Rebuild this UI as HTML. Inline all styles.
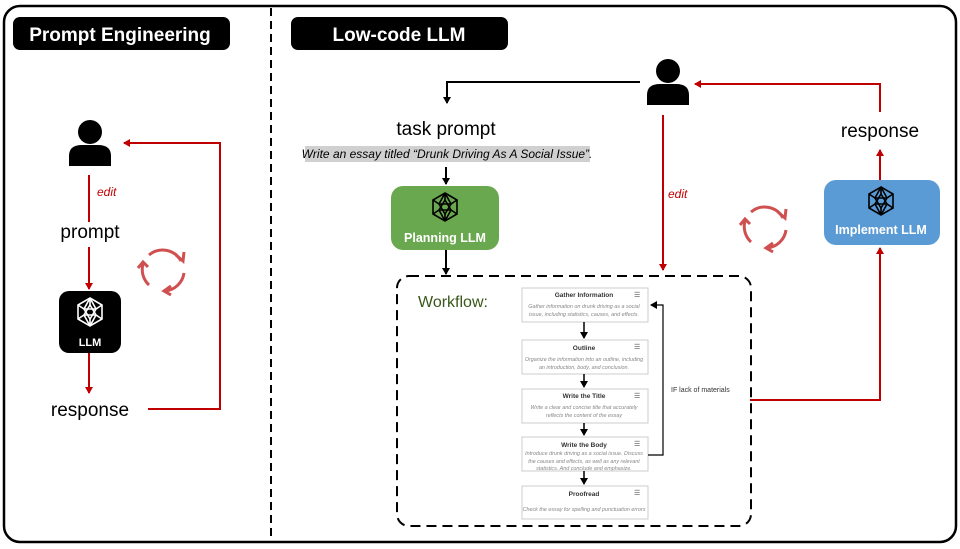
<!DOCTYPE html>
<html><head><meta charset="utf-8"><style>
html,body{margin:0;padding:0;background:#fff;width:960px;height:549px;overflow:hidden}
svg{display:block;font-family:"Liberation Sans",sans-serif}
.wt{font-size:5.4px;font-style:italic;fill:#888;text-anchor:middle}
.wh{font-size:6.5px;font-weight:bold;fill:#333;text-anchor:middle}
</style></head><body>
<svg width="960" height="549" viewBox="0 0 960 549">
<defs>
<marker id="ab" markerWidth="8" markerHeight="8" refX="6" refY="4" orient="auto" markerUnits="userSpaceOnUse"><path d="M0,0 L7,4 L0,8z" fill="#000"/></marker>
<marker id="ar" markerWidth="8" markerHeight="8" refX="6" refY="4" orient="auto" markerUnits="userSpaceOnUse"><path d="M0,0 L7,4 L0,8z" fill="#c00000"/></marker>
<g id="person"><circle cx="0" cy="-13" r="12"/><path d="M-21,21 L-21,11 Q-21,0 -8,0 L8,0 Q21,0 21,11 L21,21z"/></g>
<g id="net" fill="none" stroke-width="1.6"><polygon points="0,-14 12,-7 12,7 0,14 -12,7 -12,-7"/><polygon points="0,-7 6,3 -6,3"/><polygon points="0,7 6,-3 -6,-3"/><path d="M0,-14 L0,-7 M12,-7 L6,-3 M12,7 L6,3 M0,14 L0,7 M-12,7 L-6,3 M-12,-7 L-6,-3 M0,-14 L6,-3 M0,-14 L-6,-3 M0,14 L6,3 M0,14 L-6,3"/></g>
<g id="cyc" fill="none" stroke="#d05050" stroke-width="3"><path d="M-14,-15 A21,21 0 0 1 18,-9"/><path d="M21,3 A21,21 0 0 1 2,21"/><path d="M-14,15 A21,21 0 0 1 -20,-6"/><path d="M13,-15 l7,6 l1,-9" /><path d="M8,16 l-7,5 l7,4"/><path d="M-25,-2 l5,-6 l5,5"/></g>
</defs>
<rect x="4" y="6" width="952" height="536" rx="16" fill="none" stroke="#000" stroke-width="2.5"/>
<line x1="271" y1="8" x2="271" y2="540" stroke="#000" stroke-width="2" stroke-dasharray="8,5"/>
<rect x="13" y="17" width="217" height="33" rx="7" fill="#000"/>
<text x="120" y="41" fill="#fff" font-size="19" font-weight="bold" text-anchor="middle">Prompt Engineering</text>
<rect x="291" y="17" width="217" height="33" rx="7" fill="#000"/>
<text x="399" y="41" fill="#fff" font-size="19" font-weight="bold" text-anchor="middle">Low-code LLM</text>

<!-- left -->
<use href="#person" x="90" y="145" fill="#000"/>
<line x1="89" y1="175" x2="89" y2="222" stroke="#c00000" stroke-width="2"/>
<text x="97" y="196" fill="#c00000" font-size="12" font-style="italic">edit</text>
<text x="90" y="238" font-size="19" text-anchor="middle">prompt</text>
<line x1="89" y1="247" x2="89" y2="289" stroke="#c00000" stroke-width="2" marker-end="url(#ar)"/>
<rect x="59" y="291" width="62" height="62" rx="10" fill="#000"/>
<use href="#net" x="90" y="312" stroke="#fff"/>
<text x="90" y="346" fill="#fff" font-size="11" font-weight="bold" text-anchor="middle">LLM</text>
<line x1="89" y1="353" x2="89" y2="393" stroke="#c00000" stroke-width="2" marker-end="url(#ar)"/>
<text x="90" y="416" font-size="19" text-anchor="middle">response</text>
<polyline points="148,409 220,409 220,143 124,143" fill="none" stroke="#c00000" stroke-width="2" marker-end="url(#ar)"/>
<use href="#cyc" x="163" y="270"/>

<!-- right -->
<use href="#person" x="668" y="84" fill="#000"/>
<polyline points="640,82 447,82 447,103" fill="none" stroke="#000" stroke-width="2" marker-end="url(#ab)"/>
<text x="446" y="135" font-size="19" text-anchor="middle">task prompt</text>
<rect x="305" y="146" width="285" height="16" fill="#d0d0d0"/>
<text x="447" y="158" font-size="12" font-style="italic" text-anchor="middle">Write an essay titled “Drunk Driving As A Social Issue”.</text>
<line x1="446" y1="167" x2="446" y2="184" stroke="#000" stroke-width="2" marker-end="url(#ab)"/>
<rect x="391" y="186" width="108" height="64" rx="12" fill="#6aa84f"/>
<use href="#net" x="445" y="207" stroke="#000"/>
<text x="445" y="242" fill="#fff" font-size="12.5" font-weight="bold" text-anchor="middle">Planning LLM</text>
<line x1="446" y1="250" x2="446" y2="274" stroke="#000" stroke-width="2" marker-end="url(#ab)"/>
<line x1="663" y1="115" x2="663" y2="270" stroke="#c00000" stroke-width="2" marker-end="url(#ar)"/>
<text x="668" y="198" fill="#c00000" font-size="12" font-style="italic">edit</text>
<use href="#cyc" x="765" y="227"/>
<rect x="824" y="180" width="116" height="65" rx="12" fill="#5b9bd5"/>
<use href="#net" x="881" y="201" stroke="#000"/>
<text x="881" y="234" fill="#fff" font-size="12.5" font-weight="bold" text-anchor="middle">Implement LLM</text>
<line x1="880" y1="180" x2="880" y2="150" stroke="#c00000" stroke-width="2" marker-end="url(#ar)"/>
<text x="880" y="137" font-size="19" text-anchor="middle">response</text>
<polyline points="880,112 880,84 695,84" fill="none" stroke="#c00000" stroke-width="2" marker-end="url(#ar)"/>
<polyline points="750,400 880,400 880,248" fill="none" stroke="#c00000" stroke-width="2" marker-end="url(#ar)"/>

<rect x="397" y="276" width="354" height="250" rx="12" fill="none" stroke="#000" stroke-width="2" stroke-dasharray="10,6"/>
<text x="418" y="307" fill="#38571a" font-size="16">Workflow:</text>

<g stroke="#ccc" fill="#fff">
<rect x="522" y="288" width="126" height="34"/><rect x="522" y="340" width="126" height="34"/>
<rect x="522" y="389" width="126" height="34"/><rect x="522" y="437" width="126" height="34"/>
<rect x="522" y="486" width="126" height="33"/></g>
<text x="584" y="297" class="wh">Gather Information</text>
<text x="584" y="308" class="wt">Gather information on drunk driving as a social</text>
<text x="584" y="316" class="wt">issue, including statistics, causes, and effects.</text>
<text x="584" y="350" class="wh">Outline</text>
<text x="584" y="361" class="wt">Organize the information into an outline, including</text>
<text x="584" y="369" class="wt">an introduction, body, and conclusion.</text>
<text x="584" y="398" class="wh">Write the Title</text>
<text x="584" y="409" class="wt">Write a clear and concise title that accurately</text>
<text x="584" y="417" class="wt">reflects the content of the essay</text>
<text x="584" y="447" class="wh">Write the Body</text>
<text x="584" y="455" class="wt">Introduce drunk driving as a social issue. Discuss</text>
<text x="584" y="463" class="wt">the causes and effects, as well as any relevant</text>
<text x="584" y="470" class="wt">statistics. And conclude and emphasize.</text>
<text x="584" y="496" class="wh">Proofread</text>
<text x="584" y="511" class="wt">Check the essay for spelling and punctuation errors</text>
<g font-size="7" fill="#555"><text x="634" y="297">☰</text><text x="634" y="349">☰</text><text x="634" y="398">☰</text><text x="634" y="446">☰</text><text x="634" y="495">☰</text></g>
<g stroke="#000" stroke-width="1.5">
<line x1="584" y1="322" x2="584" y2="338" marker-end="url(#ab)"/>
<line x1="584" y1="374" x2="584" y2="387" marker-end="url(#ab)"/>
<line x1="584" y1="423" x2="584" y2="435" marker-end="url(#ab)"/>
<line x1="584" y1="471" x2="584" y2="484" marker-end="url(#ab)"/>
</g>
<polyline points="648,455 663,455 663,305 651,305" fill="none" stroke="#000" stroke-width="1.2" marker-end="url(#ab)"/>
<text x="671" y="392" font-size="7" fill="#333">IF lack of materials</text>
</svg>
</body></html>
